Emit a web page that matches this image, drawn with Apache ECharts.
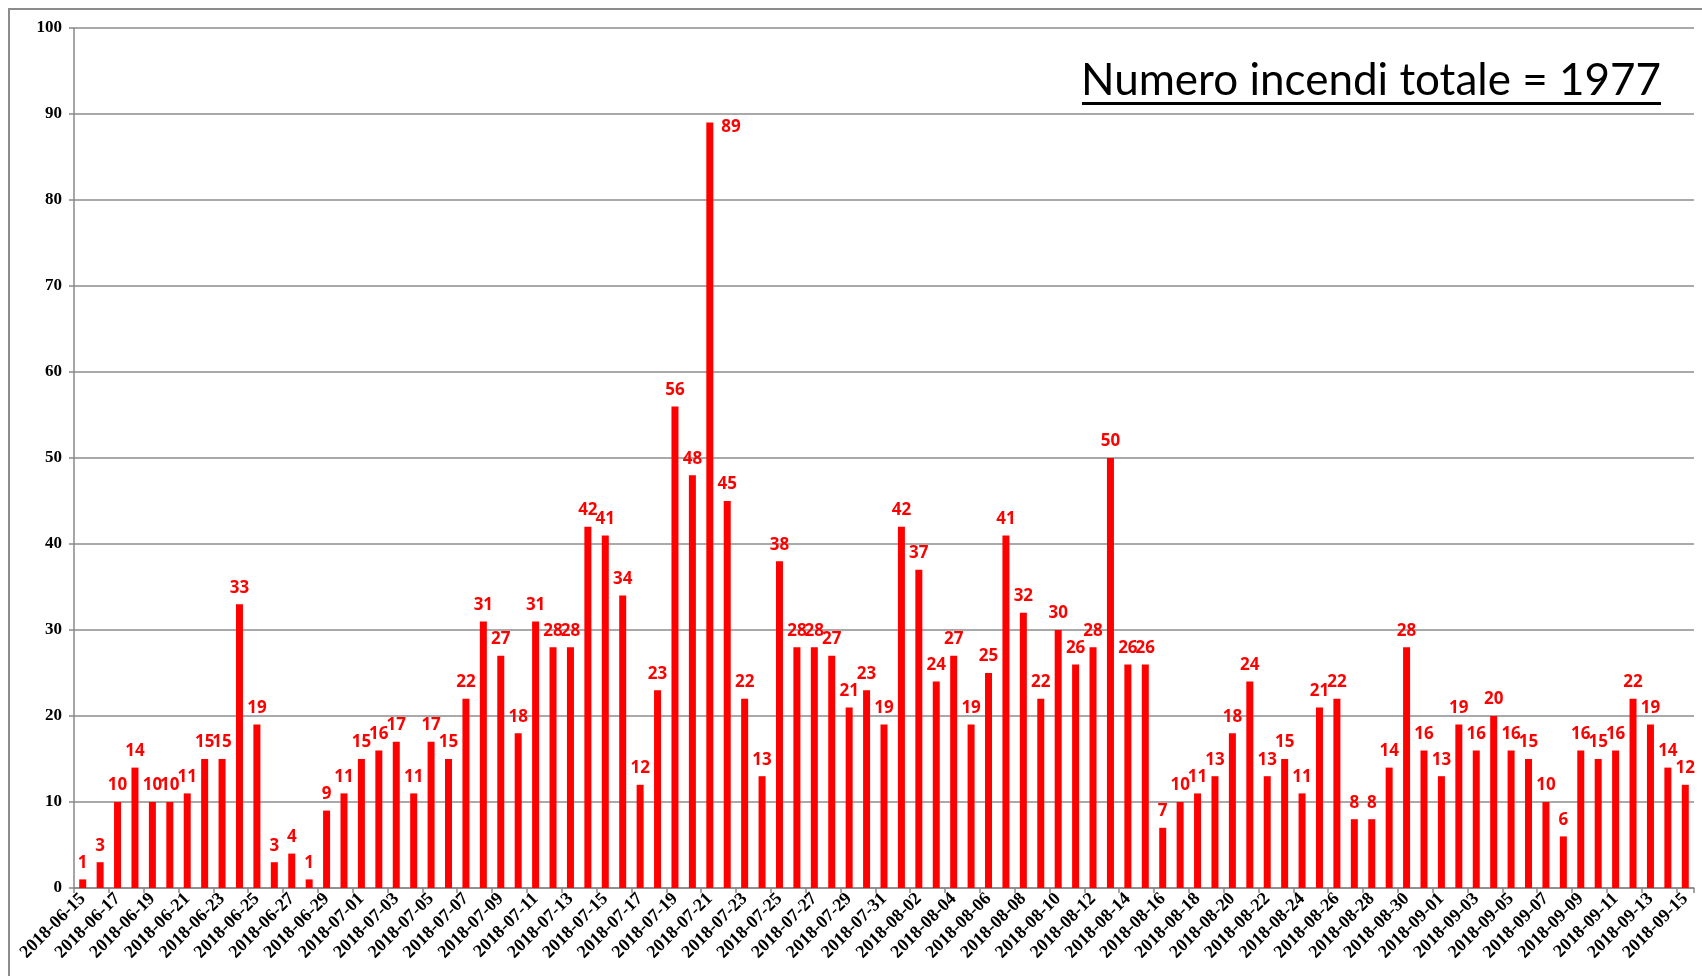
<!DOCTYPE html>
<html>
<head>
<meta charset="utf-8">
<title>Numero incendi</title>
<script src="https://cdn.jsdelivr.net/npm/echarts@6/dist/echarts.min.js"></script>
<style>
  html, body { margin: 0; padding: 0; background: #fff; }
  #chart { width: 1702px; height: 976px; }
</style>
</head>
<body>
<div id="chart"></div>
<script>
// giorni (categorie) e incendi giornalieri
const juneDays = ['2018-06-15','2018-06-16','2018-06-17','2018-06-18','2018-06-19','2018-06-20','2018-06-21','2018-06-22',
  '2018-06-23','2018-06-24','2018-06-25','2018-06-26','2018-06-27','2018-06-28','2018-06-29','2018-06-30'];
const juneFires = [1, 3, 10, 14, 10, 10, 11, 15, 15, 33, 19, 3, 4, 1, 9, 11];

const julyDays = ['2018-07-01','2018-07-02','2018-07-03','2018-07-04','2018-07-05','2018-07-06','2018-07-07','2018-07-08',
  '2018-07-09','2018-07-10','2018-07-11','2018-07-12','2018-07-13','2018-07-14','2018-07-15','2018-07-16','2018-07-17',
  '2018-07-18','2018-07-19','2018-07-20','2018-07-21','2018-07-22','2018-07-23','2018-07-24','2018-07-25','2018-07-26',
  '2018-07-27','2018-07-28','2018-07-29','2018-07-30','2018-07-31'];
const julyFires = [15, 16, 17, 11, 17, 15, 22, 31, 27, 18, 31, 28, 28, 42, 41, 34, 12, 23, 56, 48, 89, 45, 22, 13, 38,
  28, 28, 27, 21, 23, 19];

const augustDays = ['2018-08-01','2018-08-02','2018-08-03','2018-08-04','2018-08-05','2018-08-06','2018-08-07','2018-08-08',
  '2018-08-09','2018-08-10','2018-08-11','2018-08-12','2018-08-13','2018-08-14','2018-08-15','2018-08-16','2018-08-17',
  '2018-08-18','2018-08-19','2018-08-20','2018-08-21','2018-08-22','2018-08-23','2018-08-24','2018-08-25','2018-08-26',
  '2018-08-27','2018-08-28','2018-08-29','2018-08-30','2018-08-31'];
const augustFires = [42, 37, 24, 27, 19, 25, 41, 32, 22, 30, 26, 28, 50, 26, 26, 7, 10, 11, 13, 18, 24, 13, 15, 11, 21,
  22, 8, 8, 14, 28, 16];

const septemberDays = ['2018-09-01','2018-09-02','2018-09-03','2018-09-04','2018-09-05','2018-09-06','2018-09-07',
  '2018-09-08','2018-09-09','2018-09-10','2018-09-11','2018-09-12','2018-09-13','2018-09-14','2018-09-15'];
const septemberFires = [13, 19, 16, 20, 16, 15, 10, 6, 16, 15, 16, 22, 19, 14, 12];

const yTicks = { min: 0, max: 100, step: 10 };
const titleText = 'Numero incendi totale = 1977';

const days = [...juneDays, ...julyDays, ...augustDays, ...septemberDays];
const fires = [...juneFires, ...julyFires, ...augustFires, ...septemberFires];

// il picco (89) ha l'etichetta a destra della barra, come nell'originale
const peak = Math.max(...fires);
const barData = fires.map(v => v === peak
  ? { value: v, label: { position: ['100%', 0], align: 'left', verticalAlign: 'top', offset: [8, -4] } }
  : v);

// titolo sottolineato: misuro il testo per la linea sotto
const titleFont = 'Lato';
const titleWidth = 579;
const ctx = document.createElement('canvas').getContext('2d');
ctx.font = '48px ' + titleFont;
const titleSize = Math.round(48 * titleWidth / ctx.measureText(titleText).width);
const titleRight = 1661;

const chart = echarts.init(document.getElementById('chart'), null, { renderer: 'canvas' });

chart.setOption({
  animation: false,
  backgroundColor: '#fff',
  grid: { left: 74, right: 8, top: 28, bottom: 88, containLabel: false },
  graphic: [
    {
      type: 'rect', silent: true, z: -1,
      shape: { x: 9, y: 9, width: 1720, height: 1000 },
      style: { fill: null, stroke: '#8c8c8c', lineWidth: 2 }
    },
    {
      type: 'text', right: 1702 - titleRight, top: 59,
      style: { text: titleText, font: titleSize + 'px ' + titleFont, fill: '#000' }
    },
    {
      type: 'rect', silent: true,
      shape: { x: titleRight - titleWidth, y: 102, width: titleWidth, height: 3 },
      style: { fill: '#000' }
    }
  ],
  xAxis: {
    type: 'category',
    data: days,
    axisLine: { lineStyle: { color: '#888', width: 1.5 } },
    axisTick: { show: true, length: 5, lineStyle: { color: '#888', width: 1.5 } },
    axisLabel: {
      interval: 1,
      rotate: 45,
      margin: 8,
      fontFamily: 'Liberation Serif',
      fontWeight: 'bold',
      fontSize: 18,
      color: '#000'
    }
  },
  yAxis: {
    type: 'value',
    min: yTicks.min,
    max: yTicks.max,
    interval: yTicks.step,
    axisLine: { show: true, lineStyle: { color: '#888', width: 1.5 } },
    axisTick: { show: true, length: 5, lineStyle: { color: '#888', width: 1.5 } },
    axisLabel: {
      margin: 12,
      fontFamily: 'Liberation Serif',
      fontWeight: 'bold',
      fontSize: 17,
      color: '#000'
    },
    splitLine: { lineStyle: { color: '#8c8c8c', width: 1.5 } }
  },
  series: [{
    type: 'bar',
    data: barData,
    barWidth: 7,
    itemStyle: { color: '#ff0000' },
    label: {
      show: true,
      position: 'top',
      distance: 8,
      color: '#ff0000',
      fontFamily: 'Open Sans',
      fontWeight: 'bold',
      fontSize: 17
    }
  }]
});

window.addEventListener('resize', () => chart.resize());
</script>
</body>
</html>
